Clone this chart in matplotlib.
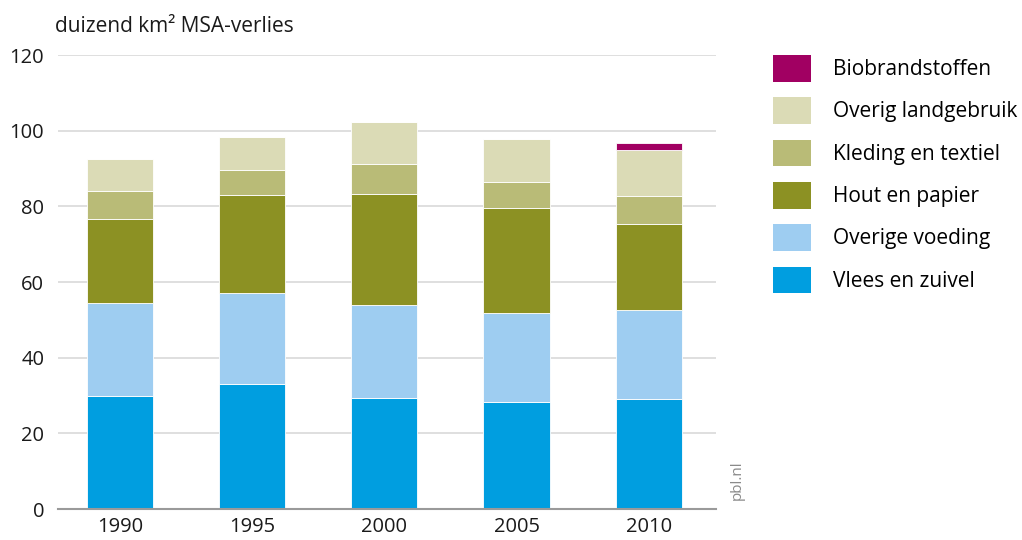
import numpy as np
import matplotlib.pyplot as plt
from matplotlib.patches import Patch

plt.rcParams['font.family'] = ['Open Sans', 'DejaVu Sans']

# Data (duizend km2 MSA-verlies)
years = ['1990', '1995', '2000', '2005', '2010']
vlees = [30.0, 33.0, 29.3, 28.2, 29.1]
overige_voeding = [24.5, 24.2, 24.7, 23.5, 23.5]
hout = [22.2, 25.7, 29.3, 27.8, 22.7]
kleding = [7.3, 6.7, 7.9, 6.9, 7.4]
overig_land = [8.4, 8.6, 11.1, 11.3, 12.2]
bio = [0.0, 0.0, 0.0, 0.0, 1.8]

series = [
    ('Vlees en zuivel', vlees, '#009ee0'),
    ('Overige voeding', overige_voeding, '#9ecdf1'),
    ('Hout en papier', hout, '#8c9123'),
    ('Kleding en textiel', kleding, '#b9bb77'),
    ('Overig landgebruik', overig_land, '#dbdbb6'),
    ('Biobrandstoffen', bio, '#a10062'),
]

fig = plt.figure(figsize=(10.22, 5.40), dpi=100)
ax = fig.add_axes([0.0568, 0.0574, 0.6438, 0.8407])

x = np.arange(len(years))
bottom = np.zeros(len(years))
for name, vals, col in series:
    vals = np.array(vals)
    ax.bar(x, vals, width=0.5, bottom=bottom, color=col,
           edgecolor='white', linewidth=0.6, zorder=3)
    bottom += vals

ax.set_xlim(-0.47, 4.51)
ax.set_ylim(0, 120)
ax.set_yticks(np.arange(0, 121, 20))
ax.set_xticks(x)
ax.set_xticklabels(years)
ax.yaxis.grid(True, color='#d9d9d9', linewidth=1.2, zorder=0)
ax.set_axisbelow(True)
for s in ['top', 'right', 'left']:
    ax.spines[s].set_visible(False)
ax.spines['bottom'].set_color('#9a9a9a')
ax.spines['bottom'].set_linewidth(1.5)
ax.spines['bottom'].set_zorder(4)
ax.tick_params(axis='both', length=0, labelsize=14.5, colors='#1a1a1a')
ax.tick_params(axis='y', pad=10)
ax.tick_params(axis='x', pad=6)

fig.text(0.054, 0.950, 'duizend km² MSA-verlies', fontsize=15,
         color='#1a1a1a', va='center', ha='left')
fig.text(0.721, 0.11, 'pbl.nl', rotation=90, fontsize=11,
         color='#8a8a8a', ha='center', va='center')

handles = [Patch(facecolor=col, edgecolor='none', label=name)
           for name, vals, col in reversed(series)]
fig.legend(handles=handles, loc='upper left', bbox_to_anchor=(0.756, 0.898),
           frameon=False, fontsize=15, handlelength=1.83, handleheight=1.58,
           labelspacing=0.76, handletextpad=1.06, borderpad=0,
           borderaxespad=0)

fig.savefig('out.png', dpi=100)
